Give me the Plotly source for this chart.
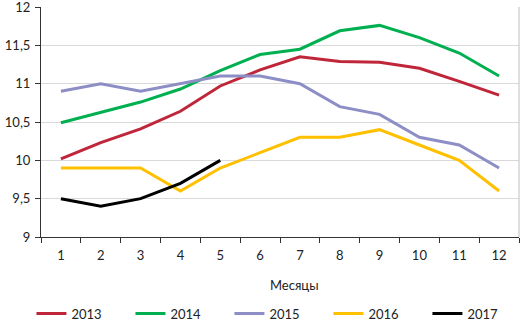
import plotly.graph_objects as go

months = [1, 2, 3, 4, 5, 6, 7, 8, 9, 10, 11, 12]
y2013 = [10.02, 10.23, 10.41, 10.64, 10.97, 11.18, 11.35, 11.29, 11.28, 11.2, 11.03, 10.85]
y2014 = [10.49, 10.62, 10.76, 10.93, 11.17, 11.38, 11.45, 11.69, 11.76, 11.6, 11.4, 11.1]
y2015 = [10.9, 11.0, 10.9, 11.0, 11.1, 11.1, 11.0, 10.7, 10.6, 10.3, 10.2, 9.9]
y2016 = [9.9, 9.9, 9.9, 9.6, 9.9, 10.1, 10.3, 10.3, 10.4, 10.2, 10.0, 9.6]
y2017 = [9.5, 9.4, 9.5, 9.7, 10.0]

series = [
    ("2013", y2013, "#C0263A"),
    ("2014", y2014, "#00B050"),
    ("2015", y2015, "#8E8EC6"),
    ("2016", y2016, "#FFC000"),
    ("2017", y2017, "#000000"),
]

font = "Lato"
fig = go.Figure()
for name, vals, col in series:
    fig.add_trace(go.Scatter(
        x=[str(m) for m in months[:len(vals)]], y=vals, name=name, mode="lines",
        line=dict(color=col, width=3),
    ))

fig.update_layout(
    width=520, height=321,
    margin=dict(l=41, r=1, t=7, b=84, autoexpand=False),
    paper_bgcolor="white", plot_bgcolor="white",
    separators=", ",
    font=dict(family=font, size=13, color="#222222"),
    showlegend=True,
    legend=dict(orientation="h", x=-0.02, xanchor="left", y=-0.333, yanchor="middle",
                entrywidth=54, entrywidthmode="pixels", font=dict(size=13),
                traceorder="normal"),
    xaxis=dict(
        type="category", categoryorder="array", categoryarray=[str(m) for m in months],
        range=[-0.5, 11.5], showgrid=False, showline=True, linecolor="#333333", linewidth=1,
        ticks="outside", tickson="boundaries", ticklen=5, tickcolor="#333333",
        tickfont=dict(size=13), zeroline=False, automargin=False, ticklabelstandoff=6,
    ),
    yaxis=dict(
        range=[9, 12], dtick=0.5, tick0=9, showgrid=True, gridcolor="#D9D9D9", gridwidth=1,
        showline=True, linecolor="#333333", linewidth=1, ticks="outside", ticklen=5,
        tickcolor="#333333", tickfont=dict(size=13), zeroline=False, automargin=False,
        ticklabelstandoff=2, ticklabeloverflow="allow",
    ),
    shapes=[dict(type="line", xref="paper", yref="paper", x0=1, x1=1, y0=0, y1=1,
                 line=dict(color="#BFBFBF", width=1))],
    annotations=[dict(text="Месяцы", xref="paper", yref="paper", x=0.53, y=-0.21,
                      xanchor="center", yanchor="middle", showarrow=False,
                      font=dict(size=13, family=font))],
)

fig.write_html("out.html", config={"displayModeBar": False},
               post_script="document.body.style.margin='0';document.body.style.overflow='hidden';")
